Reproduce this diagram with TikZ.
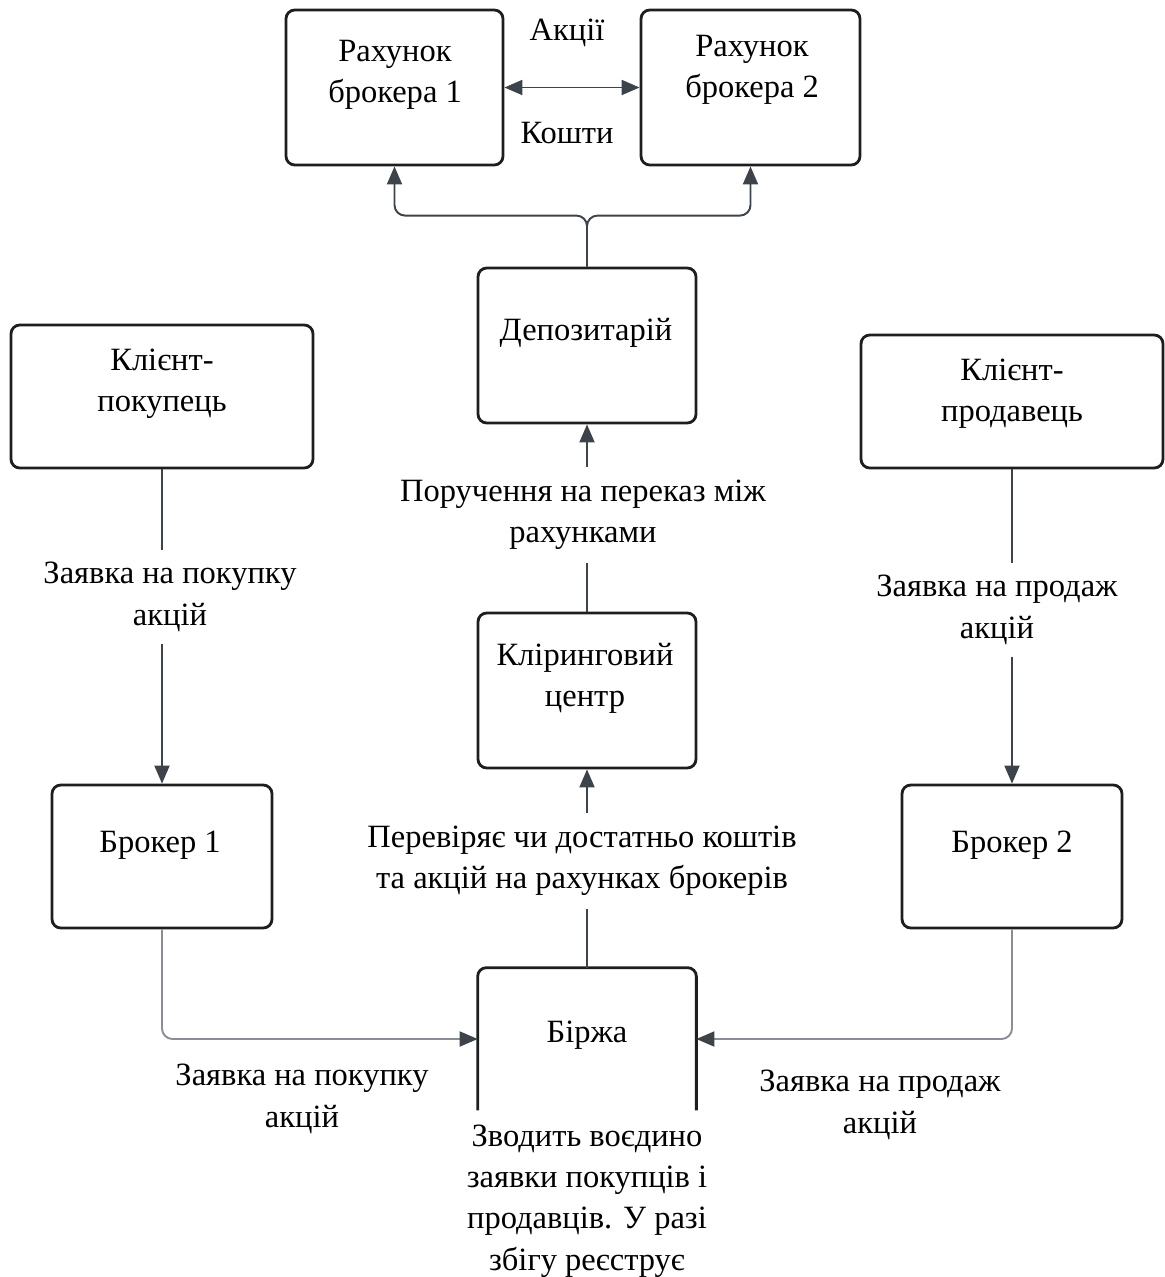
\documentclass[tikz,border=0pt]{standalone}
\usepackage{fontspec}
\setmainfont{Liberation Serif}
\usetikzlibrary{arrows.meta}
\definecolor{boxline}{HTML}{1E1E1E}
\definecolor{conn}{HTML}{3D434B}
\definecolor{connlight}{HTML}{8A8E94}
\newcommand\px{0.02cm}

\begin{document}
\begin{tikzpicture}[x=\px,y=-\px,line join=round,
	font=\fontsize{18.5}{23.5}\selectfont,
	>={Triangle[length=0.36cm,width=0.3cm]},
	box/.style={draw=boxline,line width=1.6pt,rounded corners=5pt,minimum width=218*\px,minimum height=155*\px},
	txt/.style={align=center,inner sep=0.25cm},
	link/.style={draw=conn,line width=1.1pt},
	arr/.style={link,->},
	arrlight/.style={draw=connlight,line width=1.1pt,-{Triangle[length=0.36cm,width=0.3cm,color=conn]}}]
	\useasboundingbox (0,0) rectangle (1165,1277);

	% boxes
	\node[box,minimum width=217*\px] (acc1) at (394.5,87.5) {};
	\node[box,minimum width=219*\px] (acc2) at (750.5,87.5) {};
	\node[box] (dep) at (587,345.5) {};
	\node[box,minimum width=302*\px,minimum height=143*\px] (buyer) at (162,396.5) {};
	\node[box,minimum width=302*\px,minimum height=133*\px] (seller) at (1012,401.5) {};
	\node[box] (clr) at (587,690.5) {};
	\node[box,minimum width=220*\px,minimum height=143*\px] (br1) at (162,856.5) {};
	\node[box,minimum width=220*\px,minimum height=143*\px] (br2) at (1012,856.5) {};
	\node[minimum width=218*\px,minimum height=142*\px,inner sep=0pt] (birzha) at (587,1039) {};
	\draw[boxline,line width=1.6pt,rounded corners=5pt] (birzha.south west) -- (birzha.north west) -- (birzha.north east) -- (birzha.south east);

	% box texts
	\node[txt] (acc1t) at (395,75) {Рахунок\\брокера 1};
	\node[txt] (acc2t) at (752,70) {Рахунок\\брокера 2};
	\node[txt] (dept) at (586,333) {Депозитарій};
	\node[txt] (buyert) at (162,384) {Клієнт-\\покупець};
	\node[txt] (sellert) at (1012,394) {Клієнт-\\продавець};
	\node[txt] (clrt) at (585,678) {Кліринговий\\центр};
	\node[txt] (br1t) at (160,845) {Брокер 1};
	\node[txt] (br2t) at (1012,845) {Брокер 2};
	\node[txt] (birzhat) at (587,1035) {Біржа};

	% labels
	\node[txt] (shares) at (567,33) {Акції};
	\node[txt] (funds) at (567,133) {Кошти};
	\node[txt] (qbuy) at (170,597) {Заявка на покупку\\акцій};
	\node[txt] (qsell) at (997,610) {Заявка на продаж\\акцій};
	\node[txt] (order) at (583,515) {Поручення на переказ між\\рахунками};
	\node[txt] (check) at (582,861) {Перевіряє чи достатньо коштів\\та акцій на рахунках брокерів};
	\node[txt] (qbuy2) at (302,1099) {Заявка на покупку\\акцій};
	\node[txt] (qsell2) at (880,1105) {Заявка на продаж\\акцій};
	\node[txt] (match) at (587,1201) {Зводить воєдино\\заявки покупців і\\продавців. У разі\\збігу реєструє};

	% connectors
	\draw[arr,<->] (acc1) -- (acc2);
	\draw[arr,rounded corners=6pt] (dep.north) -- ++(0,-51) -| (acc1.south);
	\draw[arr,rounded corners=6pt] (dep.north) -- ++(0,-51) -| (acc2.south);
	\draw[link] (clr.north) -- (clr.north |- order.south);
	\draw[arr] (dep.south |- order.north) -- (dep.south);
	\draw[link] (birzha.north) -- (birzha.north |- check.south);
	\draw[arr] (clr.south |- check.north) -- (clr.south);
	\draw[link] (buyer.south) -- (buyer.south |- qbuy.north);
	\draw[arr] (buyer.south |- qbuy.south) -- (br1.north);
	\draw[link] (seller.south) -- (seller.south |- qsell.north);
	\draw[arr] (seller.south |- qsell.south) -- (br2.north);
	\draw[arrlight,rounded corners=6pt] (br1.south) |- (birzha.west);
	\draw[arrlight,rounded corners=6pt] (br2.south) |- (birzha.east);

\end{tikzpicture}
\end{document}
